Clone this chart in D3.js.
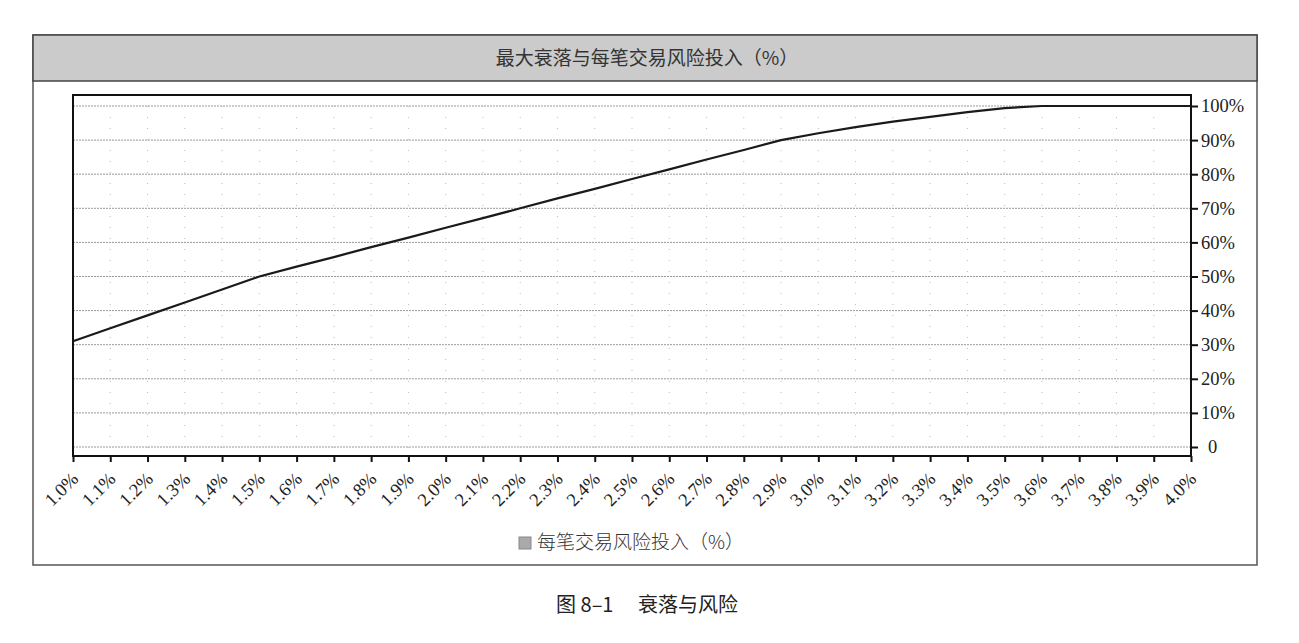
<!DOCTYPE html>
<html>
<head>
<meta charset="utf-8">
<script src="https://cdn.jsdelivr.net/npm/d3@7"></script>
<style>
  body { margin: 0; background: #fff; }
  .axis text { font-family: "Liberation Serif", "DejaVu Serif", serif; font-size: 18.5px; fill: #222; }
  .axis path, .axis line { stroke: #111; stroke-width: 2; }
</style>
</head>
<body>
<div id="chart"></div>
<script>
// risk per trade (x) and maximum drawdown (y), both in %
var riskPerTrade = [1.0, 1.1, 1.2, 1.3, 1.4, 1.5, 1.6, 1.7, 1.8, 1.9,
  2.0, 2.1, 2.2, 2.3, 2.4, 2.5, 2.6, 2.7, 2.8, 2.9,
  3.0, 3.1, 3.2, 3.3, 3.4, 3.5, 3.6, 3.7, 3.8, 3.9, 4.0];
var maxDrawdown = [31, 34.8, 38.6, 42.4, 46.2, 50, 52.9, 55.7, 58.6, 61.4,
  64.3, 67.1, 70, 72.9, 75.7, 78.6, 81.4, 84.3, 87.1, 90,
  92, 93.8, 95.4, 96.8, 98.2, 99.4, 100, 100, 100, 100, 100];
var yTicks = [0, 10, 20, 30, 40, 50, 60, 70, 80, 90, 100];

var chartTitle = "最大衰落与每笔交易风险投入（%）";
var legendLabel = "每笔交易风险投入（%）";
var caption = "图 8–1　 衰落与风险";

var W = 1299, H = 643;
var box = { left: 33, top: 35, right: 1257, bottom: 565, titleH: 46 };
var plot = { left: 73, top: 95, right: 1191, bottom: 456 };

var svg = d3.select("#chart").append("svg")
  .attr("width", W)
  .attr("height", H);

// outer frame + grey title bar
svg.append("rect")
  .attr("x", box.left).attr("y", box.top)
  .attr("width", box.right - box.left).attr("height", box.bottom - box.top)
  .attr("fill", "#fff").attr("stroke", "#555").attr("stroke-width", 1.5);

svg.append("rect")
  .attr("x", box.left).attr("y", box.top)
  .attr("width", box.right - box.left).attr("height", box.titleH)
  .attr("fill", "#cbcbcb").attr("stroke", "#444").attr("stroke-width", 1.5);

svg.append("text")
  .attr("x", 647)
  .attr("y", box.top + box.titleH / 2 + 7)
  .attr("text-anchor", "middle")
  .style("font-family", "'Noto Sans CJK SC', sans-serif")
  .style("font-size", "19px")
  .style("fill", "#333")
  .text(chartTitle);

var xScale = d3.scaleLinear()
  .domain([1.0, 4.0])
  .range([plot.left, plot.right]);

var yScale = d3.scaleLinear()
  .domain([0, 100])
  .range([447, 106]);

// horizontal grid
svg.append("g")
  .selectAll("line")
  .data(yTicks)
  .enter().append("line")
  .attr("x1", plot.left).attr("x2", plot.right)
  .attr("y1", function(d) { return yScale(d); })
  .attr("y2", function(d) { return yScale(d); })
  .style("stroke", "#999")
  .style("stroke-width", 1)
  .style("stroke-dasharray", "2,1");

// vertical dotted grid
svg.append("g")
  .selectAll("line")
  .data(riskPerTrade.slice(1, -1))
  .enter().append("line")
  .attr("x1", function(d) { return xScale(d); })
  .attr("x2", function(d) { return xScale(d); })
  .attr("y1", plot.top).attr("y2", plot.bottom)
  .style("stroke", "#bbb")
  .style("stroke-width", 1)
  .style("stroke-dasharray", "1,10");

// plot frame
svg.append("rect")
  .attr("x", plot.left).attr("y", plot.top)
  .attr("width", plot.right - plot.left).attr("height", plot.bottom - plot.top)
  .attr("fill", "none").attr("stroke", "#111").attr("stroke-width", 2);

// bottom axis, rotated labels
var xAxis = svg.append("g")
  .attr("class", "x axis")
  .attr("transform", "translate(0," + plot.bottom + ")")
  .call(d3.axisBottom(xScale)
    .tickValues(riskPerTrade)
    .tickSizeOuter(0)
    .tickSize(6)
    .tickFormat(function(d) { return d.toFixed(1) + "%"; }));

xAxis.select(".domain").remove();
xAxis.selectAll("text")
  .attr("text-anchor", "end")
  .attr("dx", null).attr("dy", null)
  .attr("x", 0).attr("y", 0)
  .attr("transform", "translate(6,24) rotate(-45)");

// right axis
var yAxis = svg.append("g")
  .attr("class", "y axis")
  .attr("transform", "translate(" + plot.right + ",0)")
  .call(d3.axisRight(yScale)
    .tickValues(yTicks)
    .tickSize(7)
    .tickPadding(3)
    .tickFormat(function(d) { return d === 0 ? "0" : d + "%"; }));

yAxis.select(".domain").remove();
yAxis.selectAll("text").filter(function(d) { return d === 0; }).attr("x", 17);

// drawdown line
var line = d3.line()
  .x(function(d, i) { return xScale(riskPerTrade[i]); })
  .y(function(d) { return yScale(d); });

svg.append("path")
  .datum(maxDrawdown)
  .attr("d", line)
  .attr("fill", "none")
  .attr("stroke", "#1a1a1a")
  .attr("stroke-width", 2.2);

// legend
var legend = svg.append("g").attr("transform", "translate(519,537)");
legend.append("rect")
  .attr("width", 12).attr("height", 12)
  .attr("fill", "#aaa").attr("stroke", "#888");
legend.append("text")
  .attr("x", 18).attr("y", 12)
  .style("font-family", "'Noto Sans CJK SC', sans-serif")
  .style("font-size", "19px")
  .style("font-weight", "300")
  .style("fill", "#333")
  .text(legendLabel);

// caption under the figure
svg.append("text")
  .attr("x", 647).attr("y", 612)
  .attr("text-anchor", "middle")
  .style("font-family", "'Noto Sans CJK SC', sans-serif")
  .style("font-size", "20px")
  .style("fill", "#222")
  .text(caption);
</script>
</body>
</html>
